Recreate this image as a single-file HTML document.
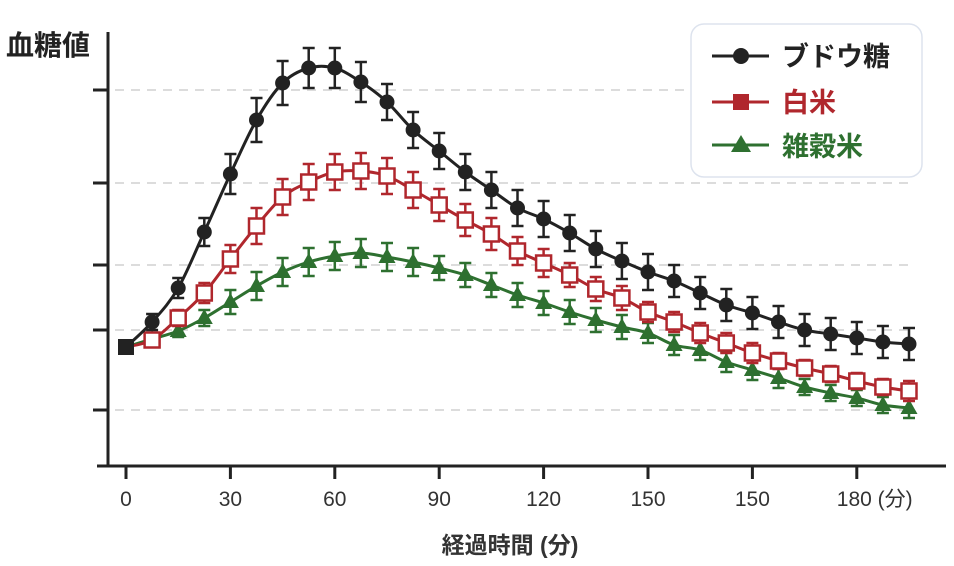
<!DOCTYPE html>
<html><head><meta charset="utf-8"><style>
body{margin:0;background:#fff;}
svg{display:block;font-family:"Liberation Sans","Noto Sans CJK JP",sans-serif;}
</style></head><body>
<svg id="chart" width="954" height="566" viewBox="0 0 954 566">
<g id="grid"></g>
<g id="series"></g>
<g id="axes">
<line x1="108" y1="32" x2="108" y2="467" stroke="#222" stroke-width="3"/>
<line x1="97" y1="466" x2="946" y2="466" stroke="#222" stroke-width="3"/>
</g>
<text x="6" y="55" font-size="28" font-weight="bold" fill="#222">血糖値</text>
<text x="510" y="553" font-size="23" font-weight="bold" fill="#333" text-anchor="middle">経過時間 (分)</text>
<g>
<rect x="691" y="24" width="231" height="153" rx="13" fill="#fff" stroke="#dde3ee" stroke-width="1.5"/>
<g>
<line x1="712" y1="56" x2="769" y2="56" stroke="#222" stroke-width="3"/><circle cx="741" cy="56" r="8" fill="#222"/>
<text x="782" y="66" font-size="27" font-weight="bold" fill="#222">ブドウ糖</text></g>
<g>
<line x1="712" y1="102" x2="769" y2="102" stroke="#b0272d" stroke-width="3"/><rect x="733" y="94" width="16" height="16" fill="#b0272d"/>
<text x="782" y="112" font-size="27" font-weight="bold" fill="#b0272d">白米</text></g>
<g>
<line x1="712" y1="145" x2="769" y2="145" stroke="#2e7030" stroke-width="3"/><polygon points="741,135 751,152 731,152" fill="#2e7030"/>
<text x="782" y="156" font-size="27" font-weight="bold" fill="#2e7030">雑穀米</text></g>
</g>
</svg>
<script>
const times=[0,7.5,15,22.5,30,37.5,45,52.5,60,67.5,75,82.5,90,97.5,105,112.5,120,127.5,135,142.5,150,157.5,165,172.5,180,187.5,195,202.5,210,217.5,225];
const glucose=[66.5,79,96,124,153,180,198.5,206,206,199,189,175,164.5,154,145,136,130.5,123.5,115.5,109.5,104,99.5,93.5,87.5,83.5,79,75,73,71,69,68];
const glucoseErr=[0,4,5,7,10,11,11,10,10,10,9,9,9,9,9,9,9,9,9,9,9,8,8,8,8,8,8,8,8,8,8];
const whiteRice=[66.5,70,81,93.5,110.5,127,141.5,149,154,154.5,152,145,137.5,130,123,114.5,108.5,102.5,95.5,91,84,79,73.5,68.5,63.5,59.5,56,53,49.5,46.5,44.5];
const whiteRiceErr=[0,3,4,5,7,9,9,9,9,9,9,9,8,8,8,7,7,6,6,6,5,5,5,5,5,4,4,4,4,4,5];
const grainRice=[66.5,70.5,74.5,81,89,97,104,109,112,113.5,111.5,109,106,102.5,97.5,92.5,88.5,84,80,76.5,73.5,67.5,65,59,55,51,46.5,43.5,41,37.5,36];
const grainRiceErr=[0,2,3,4,6,7,7,7,7,7,7,7,6,6,6,6,6,6,6,6,5,5,5,5,5,5,4,4,4,4,5];
const xTicks=[0,30,60,90,120,150,180,210];
const xTickLabels=["0","30","60","90","120","150","150","180 (分)"];
const yTicks=[35,75,107.5,148.5,195];

const NS="http://www.w3.org/2000/svg";
const xS=t=>126+t*3.48;
const yS=v=>480-2*v;
function mk(tag,attrs,parent){const e=document.createElementNS(NS,tag);for(const k in attrs)e.setAttribute(k,attrs[k]);parent.appendChild(e);return e;}
const grid=document.getElementById('grid'),axes=document.getElementById('axes'),ser=document.getElementById('series');
yTicks.forEach((v,i)=>{
  const y=yS(v);
  const g=mk('line',{x1:115,y1:y,x2:(v>180?690:912),y2:y,stroke:'#dcdcdc','stroke-width':2,'stroke-dasharray':'9,7'},grid);
  
  
  const t=mk('line',{x1:93,y1:y,x2:108,y2:y,stroke:'#222','stroke-width':3},axes);
  
  
});
xTicks.forEach((v,i)=>{
  const x=xS(v);
  const t=mk('line',{x1:x,y1:466,x2:x,y2:479,stroke:'#222','stroke-width':3},axes);
  
  
  const last=i==xTicks.length-1;
  const l=mk('text',{x:(last?x-20:x),y:506,'font-size':21,fill:'#333','text-anchor':(last?'start':'middle')},axes);
  l.textContent=xTickLabels[i];
  
  
});
function pathD(pts){
  let d=`M${pts[0][0]},${pts[0][1]}`;
  for(let i=0;i<pts.length-1;i++){
    const p0=pts[i-1]||pts[i],p1=pts[i],p2=pts[i+1],p3=pts[i+2]||p2;
    d+=` C${p1[0]+(p2[0]-p0[0])/6},${p1[1]+(p2[1]-p0[1])/6} ${p2[0]-(p3[0]-p1[0])/6},${p2[1]-(p3[1]-p1[1])/6} ${p2[0]},${p2[1]}`;
  }
  return d;
}
function drawSeries(vals,errs,color,shape,name){
  const g=mk('g',{},ser);
  
  
  const pts=vals.map((v,i)=>[xS(times[i]),yS(v)]);
  const p=mk('path',{d:pathD(pts),fill:'none',stroke:color,'stroke-width':3},g);
  
  
  vals.forEach((v,i)=>{
    if(i==0)return;
    const x=xS(times[i]),y1=yS(v+errs[i]),y2=yS(v-errs[i]);
    const e=mk('path',{d:`M${x},${y1}V${y2}M${x-6},${y1}H${x+6}M${x-6},${y2}H${x+6}`,stroke:color,'stroke-width':2.5,fill:'none'},g);
    
    
  });
  vals.forEach((v,i)=>{
    if(i==0)return;
    const x=xS(times[i]),y=yS(v);let m;
    if(shape=='circle')m=mk('circle',{cx:x,cy:y,r:7.5,fill:color},g);
    else if(shape=='square')m=mk('rect',{x:x-7.5,y:y-7.5,width:15,height:15,fill:'#fff',stroke:color,'stroke-width':2.5},g);
    else m=mk('polygon',{points:`${x},${y-9} ${x+8.5},${y+6} ${x-8.5},${y+6}`,fill:color},g);
    
    
  });
}
drawSeries(grainRice,grainRiceErr,'#2e7030','tri','multigrain-rice');
drawSeries(whiteRice,whiteRiceErr,'#b0272d','square','white-rice');
drawSeries(glucose,glucoseErr,'#222','circle','glucose');
const s=mk('rect',{x:xS(0)-8,y:yS(glucose[0])-8,width:16,height:16,fill:'#222'},ser);


</script>
</body></html>
